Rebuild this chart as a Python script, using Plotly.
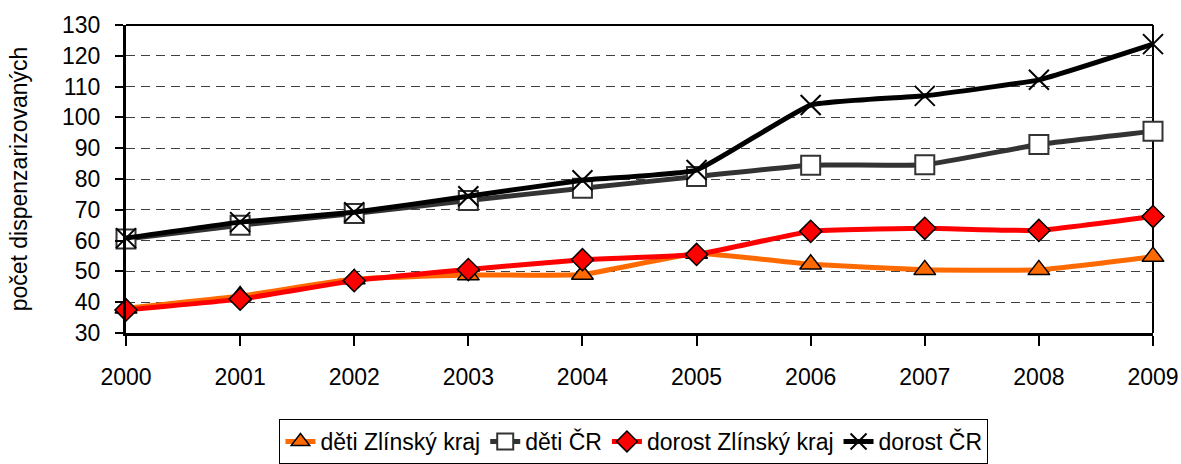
import plotly.graph_objects as go

years = [2000, 2001, 2002, 2003, 2004, 2005, 2006, 2007, 2008, 2009]
deti_zlin = [38, 42, 47.5, 48.8, 49, 55.8, 52.3, 50.5, 50.5, 54.8]
deti_cr = [60.5, 65, 68.8, 73, 77, 80.8, 84.5, 84.6, 91.2, 95.5]
dorost_zlin = [37.5, 41, 47, 50.6, 53.8, 55.5, 63, 64, 63.3, 67.8]
dorost_cr = [60.8, 66, 69.2, 74.4, 79.6, 82.9, 104, 107, 112.2, 123.8]

series_names = ["děti Zlínský kraj", "děti ČR", "dorost Zlínský kraj", "dorost ČR"]
y_title = "počet dispenzarizovaných"

FONT = "Liberation Sans, Arial, sans-serif"

fig = go.Figure()

styles = [
    dict(line=dict(color="#FF6A00", width=5),
         marker=dict(symbol="triangle-up", size=19, color="#FF6A00",
                     line=dict(color="black", width=1.5))),
    dict(line=dict(color="#333333", width=5),
         marker=dict(symbol="square", size=19, color="white",
                     line=dict(color="#333333", width=2))),
    dict(line=dict(color="#FF0000", width=5),
         marker=dict(symbol="diamond", size=17, color="#FF0000",
                     line=dict(color="black", width=1.5))),
    dict(line=dict(color="black", width=5),
         marker=dict(symbol="x-thin", size=20, color="black",
                     line=dict(color="black", width=2))),
]

for name, vals, st in zip(series_names, [deti_zlin, deti_cr, dorost_zlin, dorost_cr], styles):
    fig.add_trace(go.Scatter(
        x=years, y=vals, name=name, mode="lines+markers",
        line=dict(shape="spline", smoothing=0.35, **st["line"]),
        marker=st["marker"], cliponaxis=False,
    ))

# top and right borders of the plot area
fig.add_shape(type="line", xref="x domain", yref="y domain", x0=0, x1=1, y0=1, y1=1,
              line=dict(color="black", width=2), layer="below")
fig.add_shape(type="line", xref="x domain", yref="y domain", x0=1, x1=1, y0=0, y1=1,
              line=dict(color="black", width=2), layer="below")

fig.update_layout(
    width=1181, height=464,
    margin=dict(l=126, r=28, t=25, b=131, autoexpand=False),
    paper_bgcolor="white", plot_bgcolor="white",
    font=dict(family=FONT, size=22, color="black"),
    showlegend=True,
    legend=dict(orientation="h", xref="container", yref="container",
                x=0.5368, xanchor="center", y=0.097, yanchor="top",
                bordercolor="black", borderwidth=1, bgcolor="white",
                font=dict(family=FONT, size=23, color="black"),
                itemwidth=30, tracegroupgap=0),
)

fig.update_xaxes(
    range=[2000, 2009], tickmode="array", tickvals=years, ticktext=[str(y) for y in years],
    showgrid=False, zeroline=False, automargin=False,
    showline=True, linecolor="black", linewidth=3,
    ticks="outside", ticklen=10, tickwidth=2, tickcolor="black",
    ticklabelstandoff=11,
    tickfont=dict(family=FONT, size=23, color="black"),
)
fig.update_yaxes(
    range=[30, 130], tick0=30, dtick=10,
    showgrid=True, gridcolor="#404040", gridwidth=1, griddash="9px,6px",
    zeroline=False, automargin=False,
    showline=True, linecolor="black", linewidth=3,
    ticks="outside", ticklen=8, tickwidth=2, tickcolor="black",
    ticklabelstandoff=10,
    tickfont=dict(family=FONT, size=23, color="black"),
    title=dict(text=y_title, font=dict(family=FONT, size=23, color="black"), standoff=28),
)

fig.write_html("out.html", config={"displayModeBar": False},
               post_script="document.body.style.margin='0';document.body.style.padding='0';")
